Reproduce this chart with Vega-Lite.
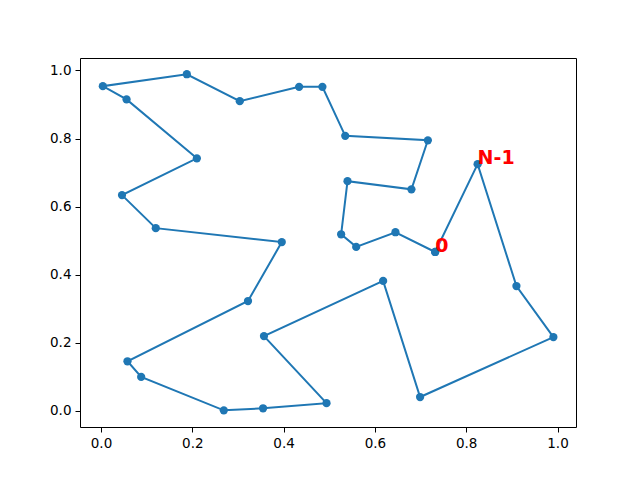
{
  "$schema": "https://vega.github.io/schema/vega-lite/v6.json",
  "width": 496,
  "height": 369,
  "autosize": "none",
  "padding": {"left": 80, "top": 58, "right": 64, "bottom": 53},
  "background": "white",
  "config": {
    "view": {"stroke": "black", "strokeWidth": 1},
    "axis": {
      "grid": false,
      "domain": false,
      "tickColor": "black",
      "tickSize": 5,
      "tickWidth": 1,
      "labelFont": "DejaVu Sans",
      "labelFontSize": 13.5,
      "labelColor": "black",
      "labelPadding": 4,
      "title": null,
      "format": ".1f"
    }
  },
  "datasets": {
    "tour": [
      {"order": 0, "x": 0.732, "y": 0.467},
      {"order": 1, "x": 0.645, "y": 0.525},
      {"order": 2, "x": 0.559, "y": 0.482},
      {"order": 3, "x": 0.526, "y": 0.519},
      {"order": 4, "x": 0.540, "y": 0.675},
      {"order": 5, "x": 0.680, "y": 0.651},
      {"order": 6, "x": 0.716, "y": 0.795},
      {"order": 7, "x": 0.535, "y": 0.808},
      {"order": 8, "x": 0.485, "y": 0.952},
      {"order": 9, "x": 0.434, "y": 0.952},
      {"order": 10, "x": 0.304, "y": 0.910},
      {"order": 11, "x": 0.188, "y": 0.989},
      {"order": 12, "x": 0.004, "y": 0.954},
      {"order": 13, "x": 0.056, "y": 0.915},
      {"order": 14, "x": 0.210, "y": 0.742},
      {"order": 15, "x": 0.046, "y": 0.634},
      {"order": 16, "x": 0.120, "y": 0.537},
      {"order": 17, "x": 0.396, "y": 0.496},
      {"order": 18, "x": 0.322, "y": 0.323},
      {"order": 19, "x": 0.058, "y": 0.146},
      {"order": 20, "x": 0.088, "y": 0.100},
      {"order": 21, "x": 0.269, "y": 0.002},
      {"order": 22, "x": 0.355, "y": 0.008},
      {"order": 23, "x": 0.494, "y": 0.023},
      {"order": 24, "x": 0.357, "y": 0.220},
      {"order": 25, "x": 0.618, "y": 0.382},
      {"order": 26, "x": 0.699, "y": 0.041},
      {"order": 27, "x": 0.991, "y": 0.217},
      {"order": 28, "x": 0.910, "y": 0.367},
      {"order": 29, "x": 0.825, "y": 0.725},
      {"order": 30, "x": 0.732, "y": 0.467}
    ],
    "labels": [
      {"x": 0.732, "y": 0.467, "label": "0"},
      {"x": 0.825, "y": 0.725, "label": "N-1"}
    ]
  },
  "layer": [
    {
      "data": {"name": "tour"},
      "mark": {"type": "line", "color": "#1f77b4", "strokeWidth": 2},
      "encoding": {
        "x": {"field": "x", "type": "quantitative", "scale": {"domain": [-0.046, 1.0405], "nice": false, "zero": false}, "axis": {"values": [0, 0.2, 0.4, 0.6, 0.8, 1.0]}},
        "y": {"field": "y", "type": "quantitative", "scale": {"domain": [-0.047, 1.0367], "nice": false, "zero": false}, "axis": {"values": [0, 0.2, 0.4, 0.6, 0.8, 1.0]}},
        "order": {"field": "order", "type": "quantitative"}
      }
    },
    {
      "data": {"name": "tour"},
      "mark": {"type": "circle", "color": "#1f77b4", "opacity": 1, "size": 68},
      "encoding": {
        "x": {"field": "x", "type": "quantitative"},
        "y": {"field": "y", "type": "quantitative"}
      }
    },
    {
      "data": {"name": "labels"},
      "mark": {"type": "text", "color": "red", "font": "DejaVu Sans", "fontWeight": "bold", "fontSize": 19, "align": "left", "baseline": "alphabetic"},
      "encoding": {
        "x": {"field": "x", "type": "quantitative"},
        "y": {"field": "y", "type": "quantitative"},
        "text": {"field": "label"}
      }
    }
  ]
}
